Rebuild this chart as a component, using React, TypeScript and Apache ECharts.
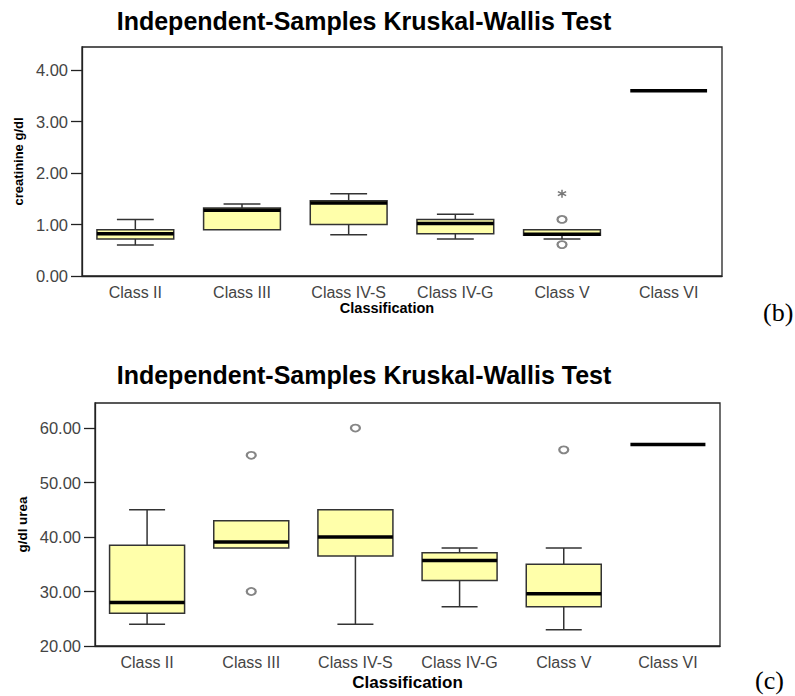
import React, { useEffect, useRef } from "react";
import * as echarts from "echarts";

const categories = ["Class II", "Class III", "Class IV-S", "Class IV-G", "Class V", "Class VI"];

// [min, Q1, median, Q3, max]
const creatinineBoxes = [
  [0.6, 0.72, 0.82, 0.9, 1.1],
  [0.9, 0.9, 1.28, 1.32, 1.4],
  [0.8, 1.0, 1.42, 1.46, 1.6],
  [0.72, 0.82, 1.02, 1.1, 1.2],
  [0.72, 0.79, 0.81, 0.9, 0.9],
  [3.6, 3.6, 3.6, 3.6, 3.6],
];
const creatinineOutliers = [["Class V", 1.1], ["Class V", 0.61]];
const creatinineExtremes = [["Class V", 1.6]];
const creatinineTicks = [0, 1, 2, 3, 4];

const ureaBoxes = [
  [24, 26, 28, 38.5, 45],
  [38, 38, 39.1, 43, 43],
  [24, 36.5, 40, 45, 45],
  [27.2, 32, 35.7, 37.1, 38],
  [23, 27.2, 29.6, 35, 38],
  [57, 57, 57, 57, 57],
];
const ureaOutliers = [["Class III", 55], ["Class III", 30], ["Class IV-S", 60], ["Class V", 56]];
const ureaTicks = [20, 30, 40, 50, 60];

const SANS = "'Liberation Sans', Arial, sans-serif";
const SERIF = "'Liberation Serif', 'Times New Roman', serif";
const LINE = "#222";
const ASTERISK =
  "path://M-1.6,-10L1.6,-10L1.6,10L-1.6,10Z" +
  "M-9.46,-3.61L-7.86,-6.39L9.46,3.61L7.86,6.39Z" +
  "M-7.86,6.39L-9.46,3.61L7.86,-6.39L9.46,-3.61Z";

function renderBox(params: any, api: any) {
  const idx = api.value(0);
  const lo = api.value(1);
  const q1 = api.value(2);
  const med = api.value(3);
  const q3 = api.value(4);
  const hi = api.value(5);
  const band = api.size([1, 0])[0];
  const bw = band * 0.72;
  const cw = bw * 0.48;
  const pLo = api.coord([idx, lo]);
  const pQ1 = api.coord([idx, q1]);
  const pMed = api.coord([idx, med]);
  const pQ3 = api.coord([idx, q3]);
  const pHi = api.coord([idx, hi]);
  const x = pMed[0];
  const lineStyle = { stroke: "#333", lineWidth: 1.5 };
  const children: any[] = [];
  if (hi > q3) {
    children.push({ type: "line", shape: { x1: x, y1: pQ3[1], x2: x, y2: pHi[1] }, style: lineStyle });
    children.push({ type: "line", shape: { x1: x - cw / 2, y1: pHi[1], x2: x + cw / 2, y2: pHi[1] }, style: lineStyle });
  }
  if (lo < q1) {
    children.push({ type: "line", shape: { x1: x, y1: pQ1[1], x2: x, y2: pLo[1] }, style: lineStyle });
    children.push({ type: "line", shape: { x1: x - cw / 2, y1: pLo[1], x2: x + cw / 2, y2: pLo[1] }, style: lineStyle });
  }
  if (q3 > q1) {
    children.push({
      type: "rect",
      shape: { x: x - bw / 2, y: pQ3[1], width: bw, height: pQ1[1] - pQ3[1] },
      style: { fill: "#FFFFAA", stroke: "#333", lineWidth: 1.5 },
    });
  }
  children.push({
    type: "line",
    shape: { x1: x - bw / 2, y1: pMed[1], x2: x + bw / 2, y2: pMed[1] },
    style: { stroke: "#000", lineWidth: 3.5 },
  });
  return { type: "group", children };
}

function xAxis(gridIndex: number, nameGap: number, nameSize: number, shift: number) {
  return {
    type: "category",
    gridIndex,
    data: categories,
    boundaryGap: true,
    axisLine: { lineStyle: { color: LINE, width: 1.3 } },
    axisTick: { alignWithLabel: true, length: 9, lineStyle: { color: LINE, width: 1.3 } },
    axisLabel: { color: "#444", fontSize: 16, fontFamily: SANS, margin: 8 },
    name: "Classification",
    nameLocation: "middle",
    nameGap,
    nameTextStyle: {
      color: "#000",
      fontWeight: "bold",
      fontSize: nameSize,
      fontFamily: SANS,
      padding: shift > 0 ? [0, shift * 2, 0, 0] : [0, 0, 0, 0],
    },
  };
}

function yAxis(gridIndex: number, min: number, max: number, ticks: number[], name: string, nameGap: number, nameSize: number) {
  return {
    type: "value",
    gridIndex,
    min,
    max,
    axisLine: { show: true, lineStyle: { color: LINE, width: 1.3 } },
    axisTick: { show: true, length: 11, customValues: ticks, lineStyle: { color: LINE, width: 1.3 } },
    axisLabel: {
      customValues: ticks,
      formatter: (v: number) => v.toFixed(2),
      margin: 14,
      color: "#444",
      fontSize: 16.5,
      fontFamily: SANS,
    },
    splitLine: { show: false },
    name,
    nameLocation: "middle",
    nameGap,
    nameTextStyle: { color: "#000", fontWeight: "bold", fontSize: nameSize, fontFamily: SANS },
  };
}

export default function App() {
  const ref = useRef<HTMLDivElement>(null);
  useEffect(() => {
    if (!ref.current) return;
    const chart = echarts.init(ref.current, undefined, { renderer: "svg" });
    const titleStyle = { color: "#000", fontWeight: "bold", fontSize: 25, fontFamily: SANS };
    chart.setOption({
      animation: false,
      backgroundColor: "#fff",
      title: [
        { text: "Independent-Samples Kruskal-Wallis Test", left: 364, top: 8, textAlign: "center", textStyle: titleStyle, padding: 0 },
        { text: "Independent-Samples Kruskal-Wallis Test", left: 364, top: 362, textAlign: "center", textStyle: titleStyle, padding: 0 },
      ],
      grid: [
        { left: 82, right: 73, top: 47, bottom: 420, show: true, borderColor: LINE, borderWidth: 1.3, backgroundColor: "transparent" },
        { left: 95, right: 75, top: 403, bottom: 50, show: true, borderColor: LINE, borderWidth: 1.3, backgroundColor: "transparent" },
      ],
      xAxis: [xAxis(0, 22, 14.5, 15), xAxis(1, 28, 17, 0)],
      yAxis: [
        yAxis(0, 0, 4.45, creatinineTicks, "creatinine g/dl", 57, 13),
        yAxis(1, 20, 64.6, ureaTicks, "g/dl urea", 63, 13.4),
      ],
      graphic: [
        { type: "text", left: 763, top: 299, style: { text: "(b)", font: `26px ${SERIF}`, fill: "#000" } },
        { type: "text", left: 755, top: 667, style: { text: "(c)", font: `26px ${SERIF}`, fill: "#000" } },
      ],
      series: [
        {
          type: "custom",
          name: "creatinine",
          xAxisIndex: 0,
          yAxisIndex: 0,
          renderItem: renderBox,
          encode: { x: 0, y: [1, 2, 3, 4, 5] },
          data: creatinineBoxes.map((b, i) => [i, ...b]),
        },
        {
          type: "scatter",
          name: "creatinine outliers",
          xAxisIndex: 0,
          yAxisIndex: 0,
          symbol: "emptyCircle",
          symbolSize: [9, 7],
          itemStyle: { color: "#666", borderWidth: 1.5 },
          data: creatinineOutliers,
        },
        {
          type: "scatter",
          name: "creatinine extremes",
          xAxisIndex: 0,
          yAxisIndex: 0,
          symbol: ASTERISK,
          symbolSize: [9, 8],
          itemStyle: { color: "#555" },
          data: creatinineExtremes,
        },
        {
          type: "custom",
          name: "urea",
          xAxisIndex: 1,
          yAxisIndex: 1,
          renderItem: renderBox,
          encode: { x: 0, y: [1, 2, 3, 4, 5] },
          data: ureaBoxes.map((b, i) => [i, ...b]),
        },
        {
          type: "scatter",
          name: "urea outliers",
          xAxisIndex: 1,
          yAxisIndex: 1,
          symbol: "emptyCircle",
          symbolSize: [9, 7],
          itemStyle: { color: "#666", borderWidth: 1.5 },
          data: ureaOutliers,
        },
      ],
    });
    return () => chart.dispose();
  }, []);
  return <div ref={ref} style={{ position: "absolute", left: 0, top: 0, width: 795, height: 696 }} />;
}
